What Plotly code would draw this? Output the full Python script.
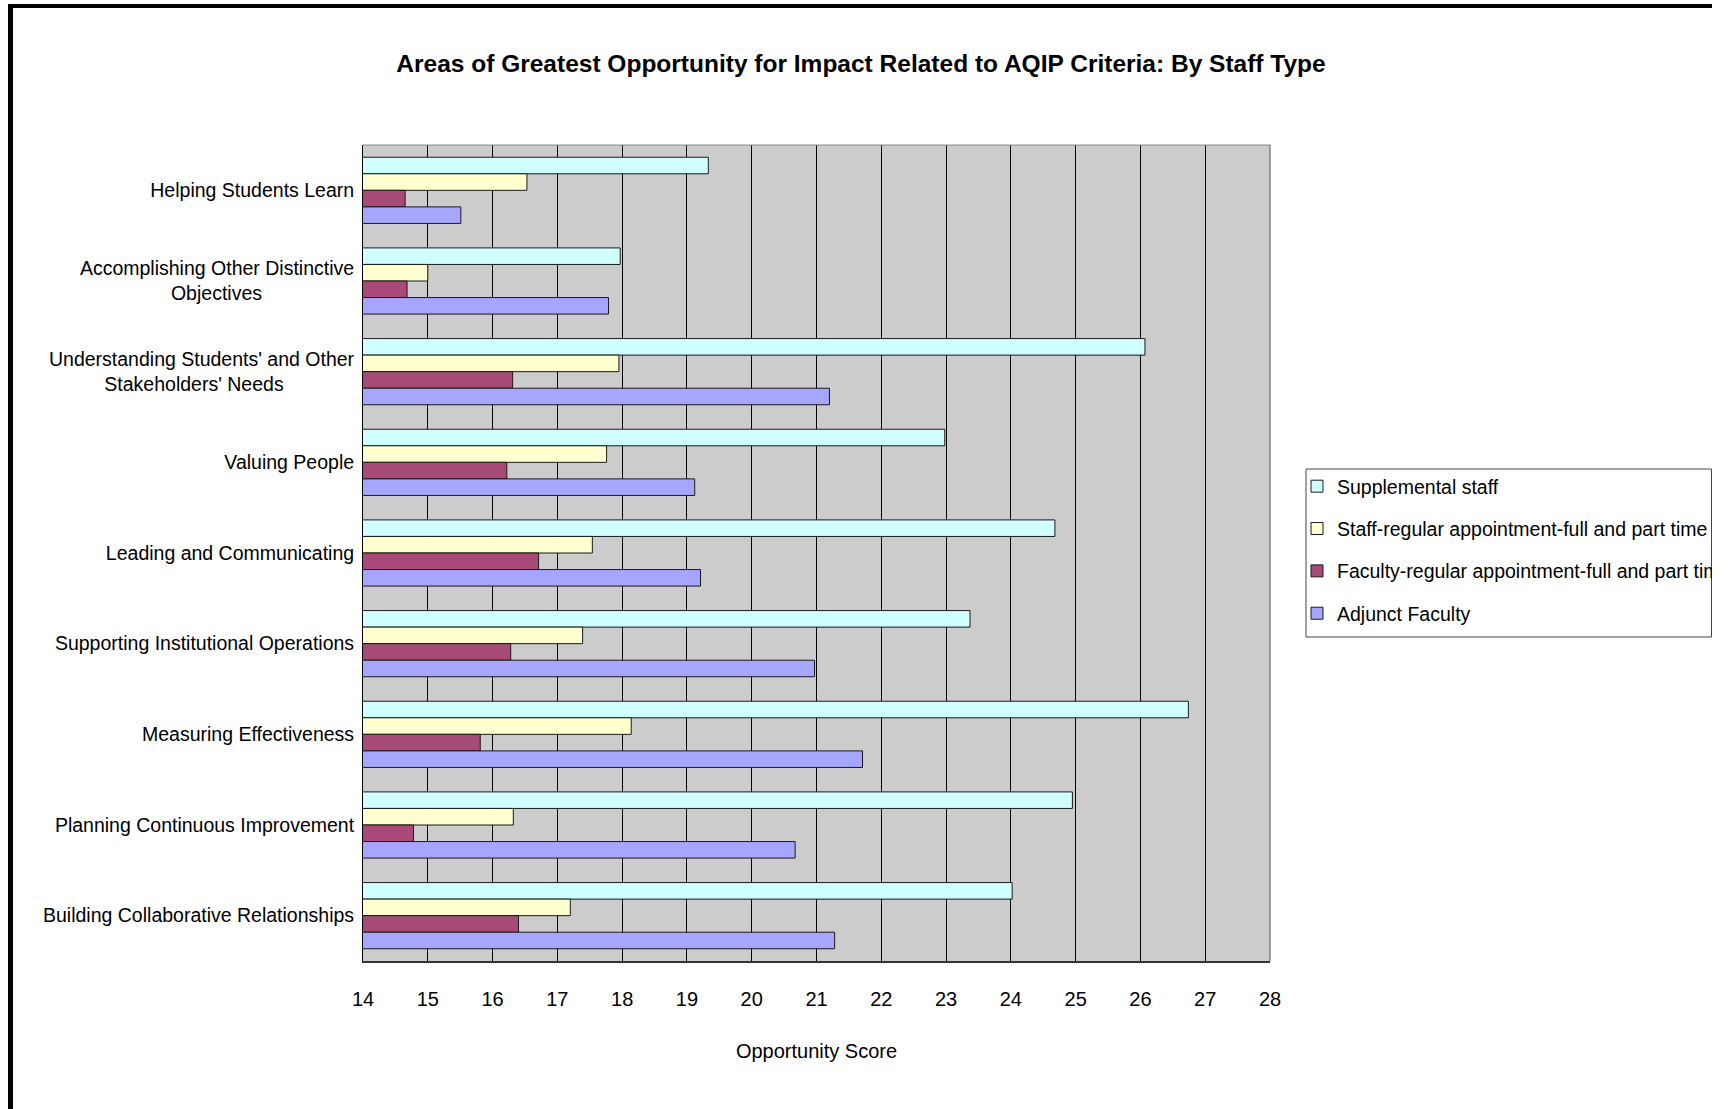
import plotly.graph_objects as go

W, H = 1712, 1109

categories = [
    "Helping Students Learn",
    "Accomplishing Other Distinctive Objectives",
    "Understanding Students' and Other Stakeholders' Needs",
    "Valuing People",
    "Leading and Communicating",
    "Supporting Institutional Operations",
    "Measuring Effectiveness",
    "Planning Continuous Improvement",
    "Building Collaborative Relationships",
]
tick_labels = [
    "Helping Students Learn",
    "Accomplishing Other Distinctive<br>Objectives" + "\u00a0" * 17,
    "Understanding Students' and Other<br>Stakeholders' Needs" + "\u00a0" * 13,
    "Valuing People",
    "Leading and Communicating",
    "Supporting Institutional Operations",
    "Measuring Effectiveness",
    "Planning Continuous Improvement",
    "Building Collaborative Relationships",
]
series_names = [
    "Supplemental staff",
    "Staff-regular appointment-full and part time",
    "Faculty-regular appointment-full and part time",
    "Adjunct Faculty",
]
supplemental = [19.33, 17.97, 26.07, 22.98, 24.68, 23.37, 26.74, 24.95, 24.02]
staff_regular = [16.53, 15.00, 17.95, 17.76, 17.54, 17.39, 18.14, 16.32, 17.20]
faculty_regular = [14.65, 14.68, 16.31, 16.22, 16.71, 16.28, 15.81, 14.78, 16.40]
adjunct = [15.51, 17.79, 21.20, 19.12, 19.21, 20.97, 21.71, 20.67, 21.28]
colors = ["#D0FFFF", "#FFFFD0", "#A84A78", "#A6A6FF"]
x_ticks = list(range(14, 29))

FONT = "Liberation Sans, Arial, sans-serif"

fig = go.Figure()
for i, (name, vals) in enumerate(zip(series_names, [supplemental, staff_regular, faculty_regular, adjunct])):
    fig.add_trace(go.Bar(
        y=categories, x=vals, name=name, orientation="h",
        marker=dict(color=colors[i], line=dict(color="#1a1a1a", width=1)),
        legendgroup=f"g{i}",
    ))

def px(x):
    return x / W

def py(y):
    return 1 - y / H

fig.update_layout(
    width=W, height=H, autosize=False,
    margin=dict(l=0, r=0, t=0, b=0, autoexpand=False),
    paper_bgcolor="white", plot_bgcolor="#CCCCCC",
    font=dict(family=FONT, size=20, color="black"),
    barmode="group", bargap=0.27, bargroupgap=0,
    title=dict(text="<b>Areas of Greatest Opportunity for Impact Related to AQIP Criteria: By Staff Type</b>",
               x=px(861), y=py(63), xanchor="center", yanchor="middle",
               font=dict(family=FONT, size=24.5, color="black")),
    xaxis=dict(range=[14, 28], tickvals=x_ticks, ticktext=[str(t) for t in x_ticks],
               showgrid=True, gridcolor="#000000", gridwidth=1,
               showline=True, linecolor="#333333", linewidth=2,
               ticks="", ticklabelstandoff=19, zeroline=False,
               tickfont=dict(size=20),
               title=dict(text="Opportunity Score", standoff=35, font=dict(size=20)),
               domain=[px(363), px(1270)], fixedrange=True),
    yaxis=dict(autorange="reversed", showgrid=False, showline=True, linecolor="#000000",
               linewidth=1, ticks="", ticklabelstandoff=4,
               tickvals=categories, ticktext=tick_labels,
               tickfont=dict(size=19.5),
               domain=[py(961), py(145)], fixedrange=True),
    legend=dict(x=px(1297), y=py(467), xanchor="left", yanchor="top",
                traceorder="grouped", tracegroupgap=14,
                bgcolor="rgba(0,0,0,0)", borderwidth=0,
                font=dict(family=FONT, size=19.5, color="black")),
    shapes=[
        # plot border (top / right)
        dict(type="line", xref="x domain", yref="y domain", x0=0, x1=1, y0=1, y1=1,
             line=dict(color="#888888", width=1)),
        dict(type="line", xref="x domain", yref="y domain", x0=1, x1=1, y0=0, y1=1,
             line=dict(color="#555555", width=1)),
        # legend box
        dict(type="rect", xref="paper", yref="paper", x0=px(1306), x1=px(1711.5), y0=py(637), y1=py(469),
             line=dict(color="#444444", width=1)),
        # outer frame
        dict(type="line", xref="paper", yref="paper", x0=px(10.5), x1=px(10.5), y0=0, y1=py(4),
             line=dict(color="black", width=5)),
        dict(type="line", xref="paper", yref="paper", x0=px(8), x1=1, y0=py(6), y1=py(6),
             line=dict(color="black", width=4)),
    ],
)

fig.write_html("out.html", config={"displayModeBar": False},
               post_script="document.body.style.margin='0';")
